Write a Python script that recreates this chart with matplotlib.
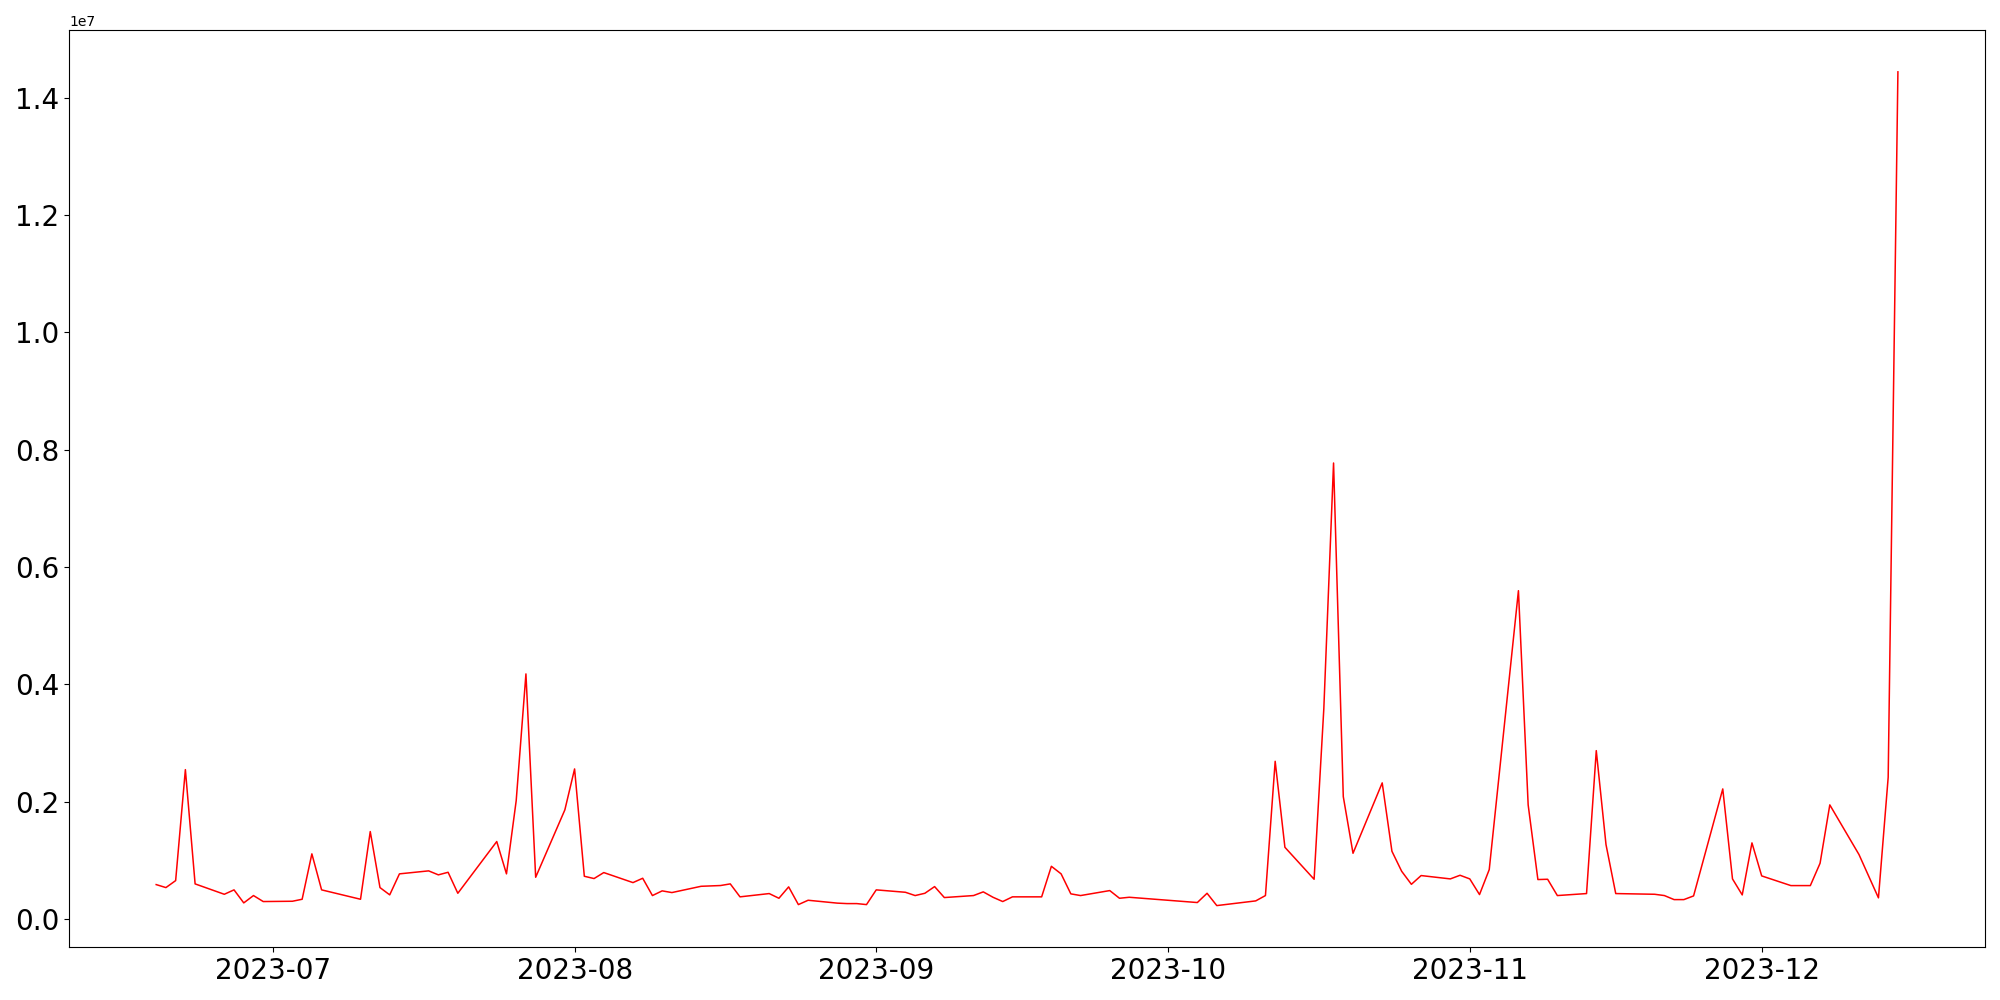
import matplotlib
matplotlib.use("Agg")
import matplotlib.pyplot as plt
import pandas as pd

dates = [
    "2023-06-19", "2023-06-20", "2023-06-21", "2023-06-22", "2023-06-23",
    "2023-06-26", "2023-06-27", "2023-06-28", "2023-06-29", "2023-06-30",
    "2023-07-03", "2023-07-04", "2023-07-05", "2023-07-06",
    "2023-07-10", "2023-07-11", "2023-07-12", "2023-07-13", "2023-07-14",
    "2023-07-17", "2023-07-18", "2023-07-19", "2023-07-20",
    "2023-07-24", "2023-07-25", "2023-07-26", "2023-07-27", "2023-07-28",
    "2023-07-31", "2023-08-01", "2023-08-02", "2023-08-03", "2023-08-04",
    "2023-08-07", "2023-08-08", "2023-08-09", "2023-08-10", "2023-08-11",
    "2023-08-14", "2023-08-16", "2023-08-17", "2023-08-18",
    "2023-08-21", "2023-08-22", "2023-08-23", "2023-08-24", "2023-08-25",
    "2023-08-28", "2023-08-29", "2023-08-30", "2023-08-31", "2023-09-01",
    "2023-09-04", "2023-09-05", "2023-09-06", "2023-09-07", "2023-09-08",
    "2023-09-11", "2023-09-12", "2023-09-13", "2023-09-14", "2023-09-15",
    "2023-09-18", "2023-09-19", "2023-09-20", "2023-09-21", "2023-09-22",
    "2023-09-25", "2023-09-26", "2023-09-27",
    "2023-10-04", "2023-10-05", "2023-10-06",
    "2023-10-10", "2023-10-11", "2023-10-12", "2023-10-13",
    "2023-10-16", "2023-10-17", "2023-10-18", "2023-10-19", "2023-10-20",
    "2023-10-23", "2023-10-24", "2023-10-25", "2023-10-26", "2023-10-27",
    "2023-10-30", "2023-10-31", "2023-11-01", "2023-11-02", "2023-11-03",
    "2023-11-06", "2023-11-07", "2023-11-08", "2023-11-09", "2023-11-10",
    "2023-11-13", "2023-11-14", "2023-11-15", "2023-11-16",
    "2023-11-20", "2023-11-21", "2023-11-22", "2023-11-23", "2023-11-24",
    "2023-11-27", "2023-11-28", "2023-11-29", "2023-11-30", "2023-12-01",
    "2023-12-04", "2023-12-06", "2023-12-07", "2023-12-08",
    "2023-12-11", "2023-12-13", "2023-12-14", "2023-12-15",
]

values_1e7 = [
    0.0586, 0.0535, 0.0654, 0.2546, 0.0598,
    0.0421, 0.0496, 0.0274, 0.0399, 0.0297,
    0.0302, 0.0336, 0.111, 0.0496,
    0.0336, 0.149, 0.0535, 0.0411, 0.0769,
    0.082, 0.0752, 0.0796, 0.0438,
    0.132, 0.0769, 0.2018, 0.4178, 0.0711,
    0.186, 0.2558, 0.0728, 0.0689, 0.0791,
    0.062, 0.0694, 0.0399, 0.0479, 0.045,
    0.0557, 0.057, 0.0598, 0.0377,
    0.0433, 0.0353, 0.0547, 0.0245, 0.0319,
    0.027, 0.0262, 0.0262, 0.0245, 0.0496,
    0.0455, 0.0399, 0.0438, 0.0552, 0.0365,
    0.0399, 0.0462, 0.037, 0.0297, 0.0377,
    0.0377, 0.0898, 0.0769, 0.0428, 0.0399,
    0.0484, 0.0353, 0.037,
    0.028, 0.0438, 0.0228,
    0.0308, 0.0399, 0.2688, 0.1222,
    0.0677, 0.3586, 0.7774, 0.2086, 0.112,
    0.232, 0.1154, 0.0813, 0.0591, 0.074,
    0.0683, 0.0745, 0.0683, 0.0416, 0.0842,
    0.5597, 0.1945, 0.0672, 0.0677, 0.0399,
    0.0433, 0.287, 0.1268, 0.0433,
    0.0421, 0.0399, 0.033, 0.033, 0.0393,
    0.2217, 0.0683, 0.041, 0.1297, 0.0734,
    0.0569, 0.0569, 0.095, 0.1945,
    0.1098, 0.036, 0.2415, 1.4443,
]

x = pd.to_datetime(dates)
y = [v * 1e7 for v in values_1e7]

fig, ax = plt.subplots(figsize=(20, 10), dpi=100)
ax.plot(x, y, color="red", linewidth=1.1)
plt.xticks(fontsize=20)
plt.yticks(fontsize=20)
fig.tight_layout()
fig.savefig("out.png", dpi=100)
